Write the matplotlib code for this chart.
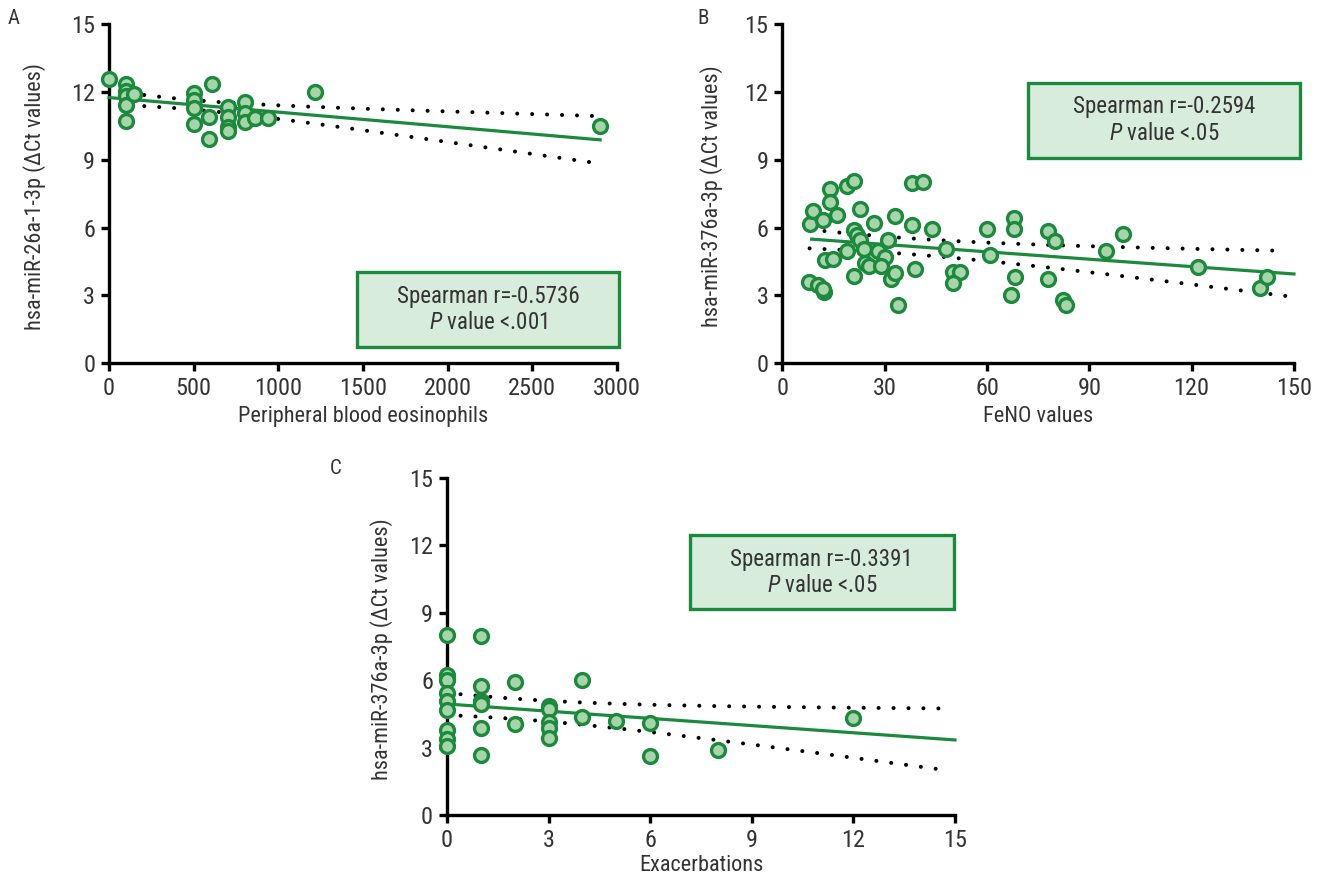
import numpy as np
import matplotlib
matplotlib.use("Agg")
import matplotlib.pyplot as plt
from matplotlib.patches import Rectangle

FONTS = ['Roboto Condensed', 'Liberation Sans Narrow', 'Liberation Sans', 'DejaVu Sans']
plt.rcParams['font.family'] = FONTS
plt.rcParams['mathtext.fontset'] = 'custom'
plt.rcParams['mathtext.rm'] = 'Roboto Condensed'
plt.rcParams['mathtext.it'] = 'Roboto Condensed:italic'

# Panel A: peripheral blood eosinophils vs hsa-miR-26a-1-3p
eos_x = [0, 100, 100, 100, 100, 100, 150, 500, 500, 500, 500, 610, 590, 590,
         700, 700, 700, 700, 800, 800, 800, 860, 940, 1215, 2900]
eos_y = [12.57, 12.35, 12.02, 11.80, 11.43, 10.72, 11.92, 11.95, 11.62, 11.31,
         10.57, 12.35, 10.87, 9.91, 11.35, 10.91, 10.47, 10.29, 11.55, 11.06,
         10.65, 10.84, 10.84, 11.99, 10.50]

# Panel B: FeNO vs hsa-miR-376a-3p
feno_x = [8.0, 8.9, 11.9, 14.0, 14.0, 16.0, 18.9, 21.1, 22.9, 27.0, 32.9, 38.1,
          38.1, 41.2, 43.9, 20.9, 21.9, 22.9, 24.0, 18.9, 12.6, 15.0, 20.9, 24.3,
          25.3, 28.0, 30.2, 28.9, 31.0, 31.9, 33.1, 38.8, 33.8, 7.9, 10.6, 12.1,
          12.0, 47.9, 50.0, 52.1, 50.0, 60.1, 60.9, 68.0, 68.0, 68.1, 67.0, 77.9,
          80.0, 77.9, 82.2, 83.1, 94.9, 99.8, 122.0, 139.9, 142.0]
feno_y = [6.18, 6.72, 6.35, 7.70, 7.13, 6.57, 7.82, 8.04, 6.84, 6.20, 6.50, 6.13,
          7.97, 8.00, 5.96, 5.91, 5.69, 5.47, 5.06, 4.96, 4.59, 4.63, 3.85, 4.44,
          4.32, 4.96, 4.71, 4.29, 5.44, 3.75, 4.00, 4.15, 2.60, 3.60, 3.45, 3.16,
          3.30, 5.06, 4.04, 4.04, 3.53, 5.96, 4.81, 6.43, 5.96, 3.81, 3.04, 5.84,
          5.43, 3.71, 2.82, 2.56, 4.96, 5.73, 4.28, 3.35, 3.80]

# Panel C: exacerbations vs hsa-miR-376a-3p
exa_x = [0, 0, 0, 0, 0, 0, 0, 0, 0, 1, 1, 1, 1, 1, 1, 2, 2, 3, 3, 3, 3, 3,
         4, 4, 5, 6, 6, 8, 12]
exa_y = [8.02, 6.22, 6.03, 5.45, 5.08, 4.68, 3.80, 3.39, 3.09, 7.98, 5.75, 5.08,
         4.96, 3.87, 2.68, 5.90, 4.05, 4.86, 4.71, 4.13, 3.86, 3.42, 6.01, 4.35,
         4.17, 4.10, 2.61, 2.90, 4.32]

# regression lines as printed (end points), and 95% band:
# (x of narrowest point, half width there, half width at right end of band)
fitA = dict(x=[0, 2900], y=[11.75, 9.88], band=[120, 2880], ci=(500, 0.21, 1.04))
fitB = dict(x=[8.6, 150], y=[5.49, 3.95], band=[8.0, 148], ci=(35, 0.35, 1.0))
fitC = dict(x=[0, 15], y=[4.94, 3.34], band=[0.4, 14.8], ci=(2.0, 0.45, 1.38))

GREEN = '#1b8a3d'
FACE = '#a7d5a9'
BOXFACE = '#d7ecda'
TXT = '#333333'


def panel(ax, x, y, fit, xmax, xticks, xlabel, ylabel, r_txt, p_txt, box,
          xlab_y, ylab_x):
    fx, fy = fit['x'], fit['y']
    slope = (fy[1] - fy[0]) / (fx[1] - fx[0])
    xs = np.linspace(fx[0], fx[1], 100)
    ax.plot(xs, fy[0] + slope * (xs - fx[0]), color=GREEN, lw=2.3, zorder=3,
            clip_on=False)

    xm, h0, h1 = fit['ci']
    bx = np.linspace(fit['band'][0], fit['band'][1], 300)
    k2 = (h1 ** 2 - h0 ** 2) / (fit['band'][1] - xm) ** 2
    half = np.sqrt(h0 ** 2 + k2 * (bx - xm) ** 2)
    mid = fy[0] + slope * (bx - fx[0])
    for band in (mid - half, mid + half):
        ax.plot(bx, band, color='black', lw=2.9, linestyle=(0, (0.01, 3.7)),
                dash_capstyle='round', zorder=2, clip_on=False)

    ax.plot(x, y, 'o', ms=10, mfc=FACE, mec=GREEN, mew=2.4, zorder=4, clip_on=False)

    ax.set_xlim(0, xmax)
    ax.set_ylim(0, 15)
    ax.set_xticks(xticks)
    ax.set_yticks([0, 3, 6, 9, 12, 15])
    for side in ('top', 'right'):
        ax.spines[side].set_visible(False)
    for side in ('left', 'bottom'):
        ax.spines[side].set_linewidth(2.4)
    ax.tick_params(width=2.4, length=6, labelsize=17.5, labelcolor=TXT, pad=4)
    ax.set_xlabel(xlabel, fontsize=16, color=TXT)
    ax.set_ylabel(ylabel, fontsize=16, color=TXT)
    ax.xaxis.set_label_coords(0.5, xlab_y)
    ax.yaxis.set_label_coords(ylab_x, 0.493)

    bx0, by0, bx1, by1 = box
    ax.add_patch(Rectangle((bx0, by0), bx1 - bx0, by1 - by0, transform=ax.transAxes,
                           facecolor=BOXFACE, edgecolor=GREEN, lw=2.4, clip_on=False,
                           zorder=5))
    ax.text((bx0 + bx1) / 2, (by0 + by1) / 2, r_txt + '\n' + p_txt,
            transform=ax.transAxes, ha='center', va='center', fontsize=16.5,
            color=TXT, linespacing=1.2, zorder=6)


fig = plt.figure(figsize=(13.17, 8.77), dpi=100)
axA = fig.add_axes([0.0828, 0.5857, 0.3857, 0.3869])
axB = fig.add_axes([0.5940, 0.5857, 0.3885, 0.3869])
axC = fig.add_axes([0.3394, 0.0707, 0.3857, 0.3843])

panel(axA, eos_x, eos_y, fitA, 3000, [0, 500, 1000, 1500, 2000, 2500, 3000],
      'Peripheral blood eosinophils', 'hsa-miR-26a-1-3p (ΔCt values)',
      'Spearman r=-0.5736', r'$\it{P}$ value <.001', (0.488, 0.048, 1.004, 0.27),
      -0.125, -0.125)
panel(axB, feno_x, feno_y, fitB, 150, [0, 30, 60, 90, 120, 150],
      'FeNO values', 'hsa-miR-376a-3p (ΔCt values)',
      'Spearman r=-0.2594', r'$\it{P}$ value <.05', (0.48, 0.606, 1.012, 0.827),
      -0.125, -0.115)
panel(axC, exa_x, exa_y, fitC, 15, [0, 3, 6, 9, 12, 15],
      'Exacerbations', 'hsa-miR-376a-3p (ΔCt values)',
      'Spearman r=-0.3391', r'$\it{P}$ value <.05', (0.478, 0.61, 0.998, 0.83),
      -0.118, -0.106)

fig.text(8 / 1317, 1 - 18 / 877, 'A', fontsize=15, color=TXT, va='center')
fig.text(697 / 1317, 1 - 18 / 877, 'B', fontsize=15, color=TXT, va='center')
fig.text(330 / 1317, 1 - 468 / 877, 'C', fontsize=15, color=TXT, va='center')

fig.savefig('out.png', dpi=100)
